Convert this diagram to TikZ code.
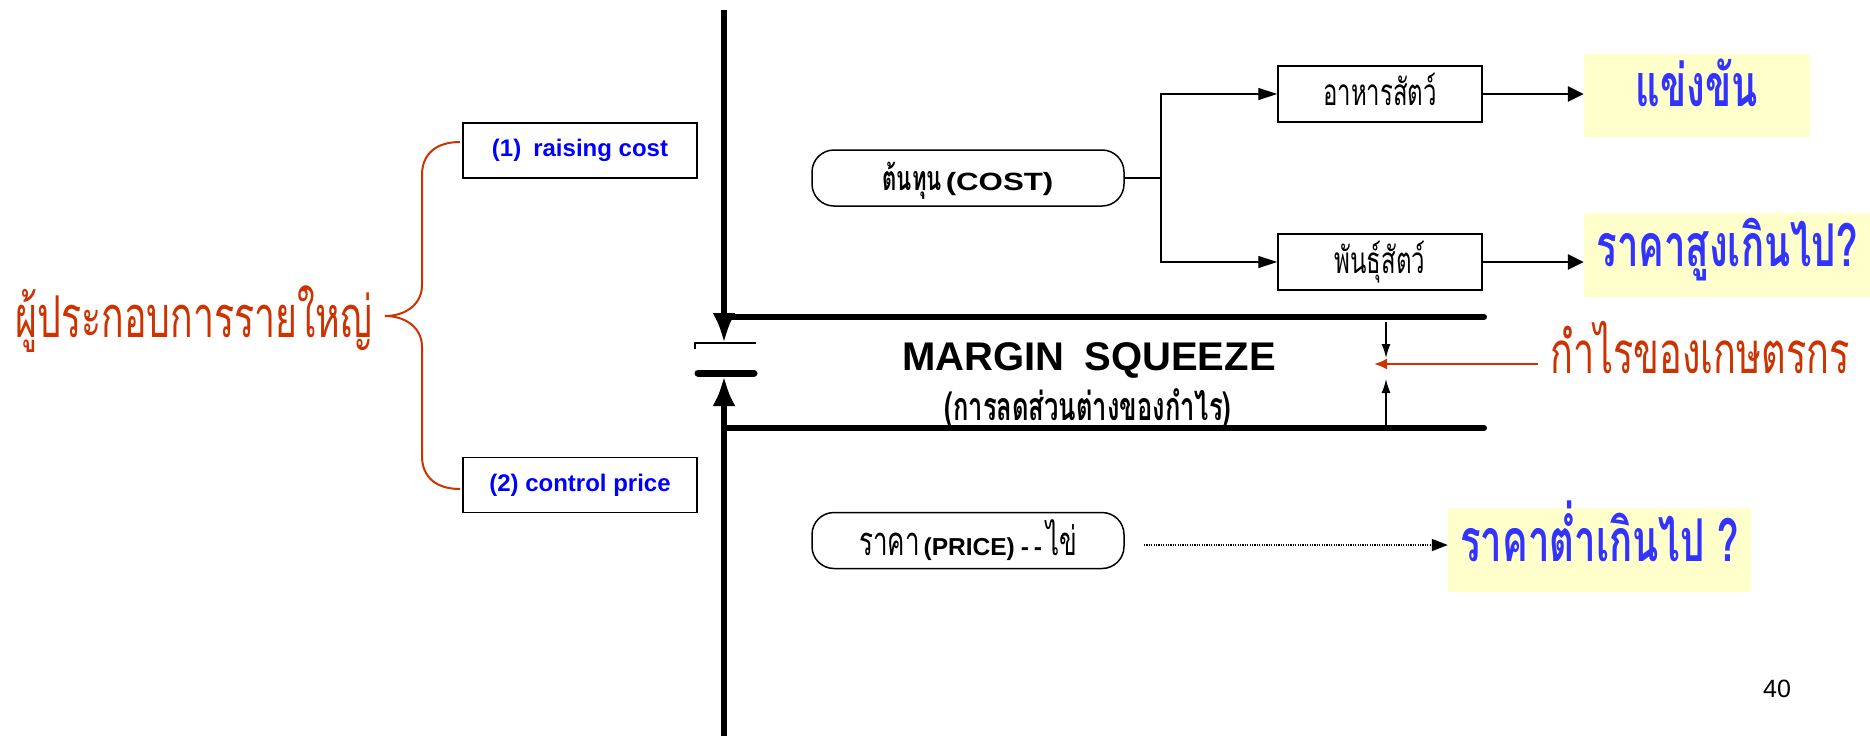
\documentclass[tikz,border=0pt]{standalone}
\usepackage{fontspec}
\setmainfont{Liberation Sans}
\newfontfamily\thai[Script=Thai,FakeStretch=0.65]{Loma}
\newfontfamily\widesans[FakeStretch=1.25]{Liberation Sans}
\usetikzlibrary{arrows.meta}
\definecolor{redor}{HTML}{CC3300}
\definecolor{blu}{HTML}{0000FF}
\definecolor{yblu}{HTML}{3333FF}
\definecolor{ybg}{HTML}{FFFFCC}
\begin{document}
\begin{tikzpicture}[x=1pt,y=-1pt,
  sqbox/.style={draw,line width=1.5pt,inner sep=0pt},
  leftbox/.style={sqbox,minimum width=234pt,minimum height=55pt,text=blu,font=\bfseries\fontsize{24}{28}\selectfont},
  midbox/.style={sqbox,minimum width=204pt,minimum height=56pt,font=\thai\fontsize{36.9}{40}\selectfont,text height=25pt,text depth=3pt},
  rbox/.style={draw,line width=1.5pt,rounded corners=22pt,inner sep=0pt,minimum width=312pt,minimum height=56pt},
  ybox/.style={fill=ybg,inner sep=0pt,text=yblu,font=\thai\bfseries\fontsize{59}{62}\selectfont,text height=30pt,text depth=8pt},
  conn/.style={line width=1.3pt,-{Triangle[length=19pt,width=12pt]}},
  thickarr/.style={line width=2.8pt,-{Triangle[length=16pt,width=15pt]}},
  vline/.style={line width=6pt},
  bigtip/.style={-{Latex[length=30pt,width=23pt]}},
  hline/.style={line width=6pt,line cap=round},
  marr/.style={line width=1.5pt,-{Latex[length=14pt,width=9pt]}},
  redtext/.style={text=redor,font=\thai\fontsize{57.7}{62}\selectfont,inner sep=0pt,anchor=base}
]
\useasboundingbox (0,0) rectangle (1870,736);

% left boxes
\node[leftbox] (b1) at (580,150.5) {(1)\hspace{0.5em}raising cost};
\node[leftbox] (b2) at (580,485) {(2) control price};

% brace
\coordinate (brT) at (460,142);
\coordinate (brB) at (460,489);
\coordinate (brM) at (385,316);
\draw[redor,line width=2pt] (brT) .. controls (436,142) and (422,154) .. (422,175) -- (422,285)
  .. controls (422,304) and (406,316) .. (brM)
  .. controls (406,316) and (422,328) .. (422,347) -- (422,456)
  .. controls (422,477) and (436,489) .. (brB);
\node[redtext] (big) at (194,337) {ผู้ประกอบการรายใหญ่};

% main vertical structure
\coordinate (vtop) at (724,10);
\coordinate (vtip1) at (724,343);
\coordinate (vbot) at (724,736);
\coordinate (vtip2) at (724,376);
\draw[vline,bigtip] (vtop) -- (vtip1);
\draw[vline,bigtip] (vbot) -- (vtip2);
\coordinate (t1a) at (695,349);
\coordinate (t1b) at (695,343);
\coordinate (t1c) at (756,343);
\draw[line width=2pt] (t1a) -- (t1b) -- (t1c);
\coordinate (t2a) at (698,373);
\coordinate (t2b) at (754,373);
\draw[line width=7pt,line cap=round] (t2a) -- (t2b);

\coordinate (hu1) at (726,317);
\coordinate (hu2) at (1484,317);
\coordinate (hl1) at (724,428);
\coordinate (hl2) at (1484,428);
\draw[hline] (hu1) -- (hu2);
\draw[hline] (hl1) -- (hl2);

\node[font=\bfseries\fontsize{40}{44}\selectfont,inner sep=0pt,anchor=base] (ms) at (1089,370) {MARGIN\hspace{0.5em}SQUEEZE};
\node[font=\thai\bfseries\fontsize{39.3}{42}\selectfont,inner sep=0pt,anchor=base] (msth) at (1088,420) {(การลดส่วนต่างของกำไร)};

% margin arrows
\coordinate (m1a) at (1386,322);
\coordinate (m1b) at (1386,358);
\coordinate (m2a) at (1386,425);
\coordinate (m2b) at (1386,379);
\draw[marr] (m1a) -- (m1b);
\draw[marr] (m2a) -- (m2b);
\coordinate (ra) at (1538,364);
\coordinate (rb) at (1374,364);
\draw[redor,line width=2pt,-{Latex[length=13pt,width=11pt]}] (ra) -- (rb);
\node[redtext,font=\thai\fontsize{58.2}{62}\selectfont] (farm) at (1700,373) {กำไรของเกษตรกร};

% cost
\node[rbox,text height=26pt,text depth=2pt] (cost) at (968,178) {{\thai\bfseries\fontsize{34}{38}\selectfont ต้นทุน}\hspace{4pt}{\widesans\bfseries\fontsize{25}{28}\selectfont(COST)}};
\node[midbox] (feed) at (1380,94) {อาหารสัตว์};
\node[midbox] (breed) at (1380,262) {พันธุ์สัตว์};
\coordinate (split) at (1161,178);
\draw[line width=1.3pt] (cost.east) -- (split);
\draw[conn] (split) |- (feed.west);
\draw[conn] (split) |- (breed.west);

\node[ybox,minimum width=226pt,minimum height=83pt] (y1) at (1697,95.5) {แข่งขัน};
\node[ybox,minimum width=286pt,minimum height=84pt] (y2) at (1727,255) {ราคาสูงเกินไป?};
\draw[thickarr] (feed.east) -- (feed.east -| y1.west);
\draw[thickarr] (breed.east) -- (breed.east -| y2.west);

% price
\node[rbox,text height=31pt,text depth=2pt] (price) at (968,540.5) {{\thai\fontsize{40}{44}\selectfont ราคา}\hspace{4pt}\textbf{\fontsize{24.5}{28}\selectfont(PRICE)\hspace{6pt}-\hspace{5pt}-}\hspace{4pt}{\thai\fontsize{40}{44}\selectfont ไข่}};
\node[ybox,minimum width=303pt,minimum height=84pt] (y3) at (1599.5,550) {ราคาต่ำเกินไป ?};
\coordinate (ds) at (1144,545);
\draw[line width=1.5pt,dash pattern=on 1.2pt off 1.2pt,-{Triangle[length=16pt,width=12pt]}] (ds) -- (ds -| y3.west);

\node[font=\fontsize{25}{28}\selectfont,inner sep=0pt] (pg) at (1777,689) {40};
\end{tikzpicture}
\end{document}
